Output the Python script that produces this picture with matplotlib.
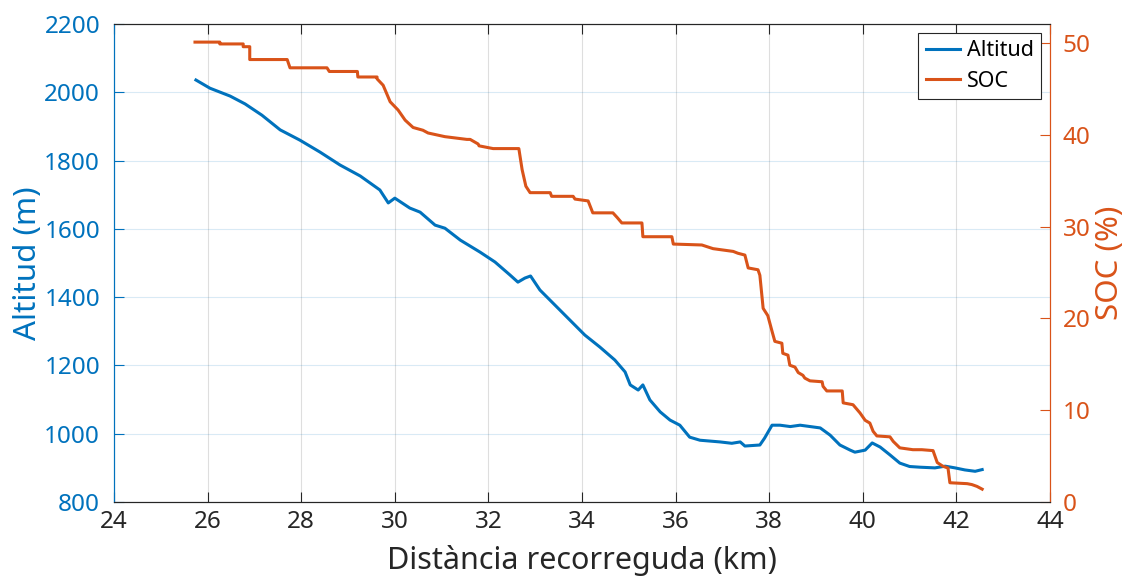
import matplotlib.pyplot as plt

# Altitud (m) vs distance (km)
alt_km = [25.75, 26.05, 26.48, 26.8, 27.16, 27.55, 27.97, 28.4, 28.83, 29.26,
          29.68, 29.86, 30.0, 30.32, 30.54, 30.86, 31.07, 31.4, 31.82, 32.14,
          32.46, 32.63, 32.78, 32.9, 33.1, 33.42, 33.74, 34.06, 34.38, 34.7,
          34.92, 35.03, 35.2, 35.3, 35.45, 35.67, 35.88, 36.09, 36.3, 36.52,
          36.95, 37.2, 37.38, 37.48, 37.8, 37.9, 38.06, 38.23, 38.45, 38.66,
          39.09, 39.3, 39.51, 39.73, 39.83, 40.05, 40.2, 40.37, 40.58, 40.79,
          41.0, 41.22, 41.54, 41.76, 41.97, 42.18, 42.4, 42.55]
alt_m = [2036, 2012, 1989, 1966, 1933, 1890, 1860, 1825, 1787, 1755,
         1714, 1676, 1690, 1661, 1649, 1611, 1602, 1567, 1532, 1503,
         1465, 1444, 1456, 1462, 1421, 1377, 1333, 1289, 1254, 1216,
         1181, 1143, 1128, 1143, 1099, 1064, 1040, 1025, 990, 981,
         976, 972, 976, 964, 967, 987, 1025, 1025, 1021, 1025,
         1017, 996, 967, 952, 946, 952, 973, 961, 938, 914,
         904, 902, 900, 905, 900, 894, 890, 895]

# SOC (%) vs distance (km), stepped profile
soc_km = [25.73, 26.26, 26.26, 26.76, 26.76, 26.9, 26.9, 27.7, 27.76, 28.55,
          28.6, 29.2, 29.21, 29.62, 29.62, 29.75, 29.9, 30.07, 30.22, 30.39,
          30.6, 30.71, 31.07, 31.54, 31.61, 31.78, 31.8, 32.1, 32.65, 32.72,
          32.8, 32.89, 33.32, 33.35, 33.81, 33.85, 34.13, 34.23, 34.66, 34.75,
          34.85, 35.28, 35.3, 35.92, 35.95, 36.56, 36.8, 37.23, 37.33, 37.48,
          37.55, 37.76, 37.8, 37.87, 37.97, 38.06, 38.12, 38.27, 38.29, 38.4,
          38.44, 38.55, 38.62, 38.72, 38.76, 38.87, 39.13, 39.15, 39.23, 39.56,
          39.58, 39.79, 39.94, 40.05, 40.15, 40.22, 40.3, 40.58, 40.65, 40.79,
          41.07, 41.26, 41.5, 41.59, 41.71, 41.82, 41.86, 42.23, 42.33, 42.44,
          42.55]
soc_pct = [50.1, 50.1, 49.9, 49.9, 49.6, 49.6, 48.2, 48.2, 47.3, 47.3,
           46.9, 46.9, 46.3, 46.3, 46.1, 45.4, 43.6, 42.7, 41.6, 40.8,
           40.5, 40.2, 39.8, 39.5, 39.5, 39.0, 38.8, 38.5, 38.5, 36.2,
           34.4, 33.7, 33.7, 33.3, 33.3, 33.0, 32.8, 31.5, 31.5, 31.0,
           30.4, 30.4, 28.9, 28.9, 28.1, 28.0, 27.6, 27.3, 27.1, 26.9,
           25.5, 25.3, 24.7, 21.1, 20.3, 18.6, 17.5, 17.3, 16.2, 16.0,
           14.9, 14.7, 14.1, 13.8, 13.5, 13.2, 13.1, 12.6, 12.1, 12.1,
           10.8, 10.6, 9.7, 8.9, 8.6, 7.7, 7.2, 7.1, 6.6, 5.9,
           5.7, 5.7, 5.6, 4.3, 3.9, 3.7, 2.1, 2.0, 1.9, 1.7,
           1.4]

x_ticks = list(range(24, 45, 2))
alt_ticks = list(range(800, 2201, 200))
soc_ticks = [0, 10, 20, 30, 40, 50]

blue = '#0072BD'
orange = '#D95319'
dark = '#262626'

plt.rcParams['font.family'] = ['Noto Sans', 'DejaVu Sans']

fig = plt.figure(figsize=(11.38, 5.83), dpi=100)
ax = fig.add_axes([0.1002, 0.1389, 0.8225, 0.8199])
ax2 = ax.twinx()

l1, = ax.plot(alt_km, alt_m, color=blue, lw=2.2, label='Altitud')
l2, = ax2.plot(soc_km, soc_pct, color=orange, lw=2.2, label='SOC')

ax.set_xlim(24, 44)
ax.set_ylim(800, 2200)
ax2.set_ylim(0, 52.07)
ax.set_xticks(x_ticks)
ax.set_yticks(alt_ticks)
ax2.set_yticks(soc_ticks)

# grid: vertical gray, horizontal follows left axis colour
ax.xaxis.grid(True, color=dark, alpha=0.15, lw=0.8)
ax.yaxis.grid(True, color=blue, alpha=0.15, lw=0.8)
ax.set_axisbelow(True)

ax.tick_params(axis='x', direction='in', top=True, colors=dark, labelsize=17.5,
               length=7, pad=6)
ax.tick_params(axis='y', direction='in', colors=blue, labelsize=17.5,
               length=7, pad=10)
ax2.tick_params(axis='y', direction='in', colors=orange, labelsize=17.5,
                length=7, pad=9)

for s in ('top', 'bottom'):
    ax.spines[s].set_color(dark)
    ax2.spines[s].set_color(dark)
ax.spines['left'].set_color(blue)
ax2.spines['left'].set_color(blue)
ax2.spines['right'].set_color(orange)
ax.spines['right'].set_color(orange)

ax.set_xlabel('Distància recorreguda (km)', fontsize=22, color=dark, labelpad=8)
ax.set_ylabel('Altitud (m)', fontsize=22.5, color=blue, labelpad=1)
ax2.set_ylabel('SOC (%)', fontsize=22.5, color=orange, labelpad=3)

leg = ax2.legend(handles=[l1, l2], loc='upper right', fontsize=15.5,
                 fancybox=False, framealpha=1, edgecolor=dark,
                 handlelength=1.6, handletextpad=0.3, borderpad=0.35,
                 labelspacing=0.45, borderaxespad=0.4)
leg.get_frame().set_linewidth(0.8)

fig.savefig('out.png', dpi=100)
